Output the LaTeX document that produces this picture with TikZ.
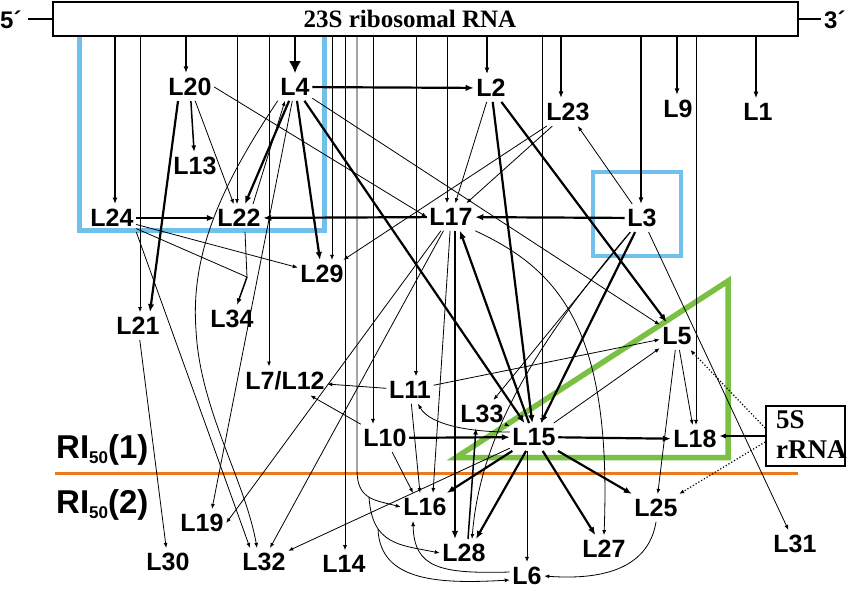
\documentclass[tikz,border=0pt]{standalone}
\usepackage{fontspec}
\setmainfont{Liberation Serif}
\setsansfont{Liberation Sans}
\usetikzlibrary{arrows.meta}
\definecolor{skyb}{RGB}{112,192,236}
\definecolor{grn}{RGB}{122,192,66}
\definecolor{orng}{RGB}{236,122,28}
\begin{document}
\begin{tikzpicture}[x=1pt,y=-1pt,
  lab/.style={font=\sffamily\bfseries\fontsize{25}{25}\selectfont,inner xsep=2.5pt,inner ysep=5pt},
  e1/.style={line width=0.8pt,-{Latex[length=5pt,width=4pt]}},
  e2/.style={line width=1.5pt,-{Latex[length=6.5pt,width=5pt]}},
  e3/.style={line width=2.2pt,-{Latex[length=8pt,width=6.5pt]}},
  e4/.style={line width=2.6pt,-{Latex[length=12pt,width=12pt]}},
  pl/.style={line width=0.8pt},
  dotarr/.style={dotted,line width=1.2pt,-{Latex[length=5pt,width=4pt]}},
  ri/.style={font=\sffamily\bfseries\fontsize{33}{33}\selectfont,inner sep=0pt,anchor=base west},
  srf/.style={font=\rmfamily\bfseries\fontsize{25}{25}\selectfont,inner sep=0pt},
  srf5/.style={font=\rmfamily\bfseries\fontsize{27}{27}\selectfont,inner sep=0pt,anchor=base west},
  prm/.style={font=\sffamily\bfseries\fontsize{24}{24}\selectfont,inner sep=0pt,anchor=base west}]
\useasboundingbox (0,0) rectangle (850,592);

% coloured frames
\draw[skyb,line width=4.5pt] (79.5,36) -- (79.5,230.5) -- (324.5,230.5) -- (324.5,36);
\draw[skyb,line width=4.5pt] (593,172) rectangle (681,256);
\draw[grn,line width=5.5pt,line join=miter] (456,457.5) -- (728,281) -- (728,457.5) -- cycle;
\coordinate (o1) at (55,473);
\coordinate (o2) at (798,473);
\draw[orng,line width=3pt] (o1) -- (o2);

% 23S box
\node[draw,line width=1.3pt,minimum width=745pt,minimum height=34pt,inner sep=0pt] (rna) at (425.5,19) {};
\node[srf] (rnat) at (410,19) {23S ribosomal RNA};
\node[prm] (p5) at (0,28) {5´};
\node[prm] (p3) at (824,28) {3´};
\coordinate (c5) at (28,19);
\coordinate (c3) at (821,19);
\draw[line width=1.3pt] (c5) -- (rna.west);
\draw[line width=1.3pt] (rna.east) -- (c3);

% RI labels
\node[ri] (ri1) at (56,458) {RI\raisebox{-5pt}{\fontsize{17}{17}\selectfont 50}(1)};
\node[ri] (ri2) at (56,513) {RI\raisebox{-5pt}{\fontsize{17}{17}\selectfont 50}(2)};

% 5S box
\node[draw,line width=1.8pt,minimum width=79pt,minimum height=60pt,inner sep=0pt] (s5) at (805.5,436) {};
\node[srf5] (t5s) at (776,428) {5S};
\node[srf5] (t5r) at (776,458) {rRNA};

% protein labels
\node[lab] (L20) at (190,87) {L20};
\node[lab] (L4) at (295,87) {L4};
\node[lab] (L2) at (491,88) {L2};
\node[lab] (L23) at (568,112) {L23};
\node[lab] (L9) at (678,109) {L9};
\node[lab] (L1) at (758,112) {L1};
\node[lab] (L13) at (195,166) {L13};
\node[lab] (L24) at (112,218) {L24};
\node[lab] (L22) at (239,218) {L22};
\node[lab] (L17) at (451,217) {L17};
\node[lab] (L3) at (642,218) {L3};
\node[lab] (L29) at (322,274) {L29};
\node[lab] (L21) at (138,326) {L21};
\node[lab] (L34) at (232,319) {L34};
\node[lab] (L5) at (677,336) {L5};
\node[lab] (L712) at (285,381) {L7/L12};
\node[lab] (L11) at (410,390) {L11};
\node[lab] (L33) at (482,414) {L33};
\node[lab] (L10) at (385,438) {L10};
\node[lab] (L15) at (534,437) {L15};
\node[lab] (L18) at (695,439) {L18};
\node[lab] (L16) at (425,507) {L16};
\node[lab] (L19) at (202,523) {L19};
\node[lab] (L25) at (656,508) {L25};
\node[lab] (L28) at (464,553) {L28};
\node[lab] (L27) at (604,549) {L27};
\node[lab] (L31) at (795,544) {L31};
\node[lab] (L30) at (168,562) {L30};
\node[lab] (L32) at (264,562) {L32};
\node[lab] (L14) at (344,564) {L14};
\node[lab] (L6) at (527,576) {L6};

% targets of the 23S lines
\coordinate (tL24) at ([xshift=3pt]L24.north);
\coordinate (tL21) at ([xshift=2pt]L21.north);
\coordinate (tL20) at ([xshift=-4pt]L20.north);
\coordinate (tL22) at ([xshift=-2pt]L22.north);
\coordinate (tL712) at ([xshift=-16pt]L712.north);
\coordinate (tL4) at (L4.north);
\coordinate (tL29) at ([xshift=10pt]L29.north);
\coordinate (tL14) at ([xshift=1pt]L14.north);
\coordinate (tL10) at ([xshift=-12pt]L10.north);
\coordinate (tL11) at ([xshift=6pt]L11.north);
\coordinate (tL17) at ([xshift=-4pt]L17.north);
\coordinate (tL2) at ([xshift=-4pt]L2.north);
\coordinate (tL15) at ([xshift=8pt]L15.north);
\coordinate (tL23) at ([xshift=-7pt]L23.north);
\coordinate (tL3) at ([xshift=-1pt]L3.north);
\coordinate (tL9) at ([xshift=-1pt]L9.north);
\coordinate (tL18) at ([xshift=1pt]L18.north);
\coordinate (tL1) at ([xshift=-2pt]L1.north);

\draw[e2] (rna.south -| tL24) -- (tL24);
\draw[e1] (rna.south -| tL21) -- (tL21);
\draw[e2] (rna.south -| tL20) -- (tL20);
\draw[e1] (rna.south -| tL22) -- (tL22);
\draw[e1] (rna.south -| tL712) -- (tL712);
\draw[e4] (rna.south -| tL4) -- (tL4);
\draw[e1] (rna.south -| tL29) -- (tL29);
\draw[e1] (rna.south -| tL14) -- (tL14);
\draw[e1] (rna.south -| tL10) -- (tL10);
\draw[e1] (rna.south -| tL11) -- (tL11);
\draw[e1] (rna.south -| tL17) -- (tL17);
\draw[e2] (rna.south -| tL2) -- (tL2);
\draw[e1] (rna.south -| tL15) -- (tL15);
\draw[e2] (rna.south -| tL23) -- (tL23);
\draw[e2] (rna.south -| tL3) -- (tL3);
\draw[e2] (rna.south -| tL9) -- (tL9);
\draw[e1] (rna.south -| tL18) -- (tL18);
\draw[e2] (rna.south -| tL1) -- (tL1);

% branching line to L16, L28, L6
\coordinate (b0) at (357,470);
\coordinate (b1) at (369,497);
\coordinate (b2) at (378,529);
\draw[e1] (rna.south -| b0) -- (b0) .. controls (357,500) and (375,500) .. (L16.west);
\draw[e1] (b1) .. controls (372,545) and (400,545) .. (L28.west);
\draw[e1] (b2) .. controls (380,582) and (440,584) .. ([yshift=-4pt]L6.west);

% L20
\draw[e2] (L20) -- (L13);
\draw[e1] (L20) -- (L22);
\draw[e3] ([xshift=-12pt]L20.south) -- ([xshift=12pt]L21.north);
\draw[e1] (L20.east) -- (L17.west);

% L4
\draw[e3] (L4) -- (L2);
\draw[e3] (L4) -- (L22);
\draw[e1] ([xshift=14pt]L22.north) -- ([xshift=-10pt]L4.south);
\draw[e1] (L4) -- ([xshift=10pt]L19.north);
\draw[e1] (L4.south west) .. controls (225,180) and (190,250) .. (196,330)
  .. controls (200,410) and (245,480) .. ([xshift=-7pt]L32.north);
\draw[e3] (L4) -- (L29);
\draw[e3] (L4) -- (L15);
\draw[e1] (L4) -- (L5);

% L2
\draw[e1] (L2) -- (L17);
\draw[e3] (L2) -- (L15);
\draw[e3] (L2) -- (L5);

% L23
\draw[e1] (L23) -- (L17);
\draw[e1] (L23) -- (L29);

% L3
\draw[e3] (L3) -- (L17);
\draw[e1] (L3) -- (L23);
\draw[e1] (L3) -- (L31);
\draw[e3] (L3) -- (L15);
\draw[e1] (L3) -- (L33);
\draw[e1] (L3) .. controls (530,350) and (480,440) .. ([xshift=8pt]L28.north);

% L24, L22, L34
\coordinate (j34) at (247,277);
\draw[e3] (L24) -- (L22);
\draw[e1] (L24) -- (L29);
\draw[pl] (L24) -- (j34);
\draw[pl] ([xshift=6pt]L22.south) -- (j34);
\draw[e2] (j34) -- (L34);
\draw[e1] (L24.south east) -- ([xshift=-14pt]L32.north);

% L17
\draw[e3] (L17) -- (L22);
\draw[e1] (L17) -- (L19.east);
\draw[e1] (L17) -- ([xshift=6pt]L32.north);
\draw[e1] (L17) -- ([xshift=8pt]L16.north);
\draw[e3] ([xshift=4pt]L17.south) -- ([xshift=-9pt]L28.north);
\draw[e3] (L15) -- ([xshift=9pt]L17.south);
\draw[e1] (L17.south east) .. controls (560,270) and (612,330) .. (L27.north);

% L21
\draw[e1] (L21) -- (L30);

% L11
\draw[e1] (L11) -- (L712);
\draw[e1] (L11) -- (L5);
\draw[e1] (L11) -- ([xshift=-5pt]L16.north);
\draw[e1] ([yshift=5pt]L15.west) .. controls (470,432) and (430,425) .. ([xshift=8pt]L11.south);

% L10
\draw[e3] (L10) -- (L15);
\draw[e1] (L10) -- ([xshift=-12pt]L16.north);
\draw[e1] (L10) -- (L712);

% L33
\draw[e1] (L33) -- (L15);
\draw[e2] ([xshift=4pt]L28.north) -- ([xshift=-6pt]L33.south);

% L15
\draw[e1] (L15) -- (L5);
\draw[e3] (L15) -- (L18);
\draw[e3] (L15) -- (L25);
\draw[e3] (L15) -- (L27);
\draw[e1] (L15.south -| L6) -- (L6);
\draw[e3] (L15) -- ([xshift=12pt]L28.north);
\draw[e3] (L15) -- (L16);
\draw[e1] (L15) -- (L32);

% L5
\draw[e1] (L5) -- (L18);
\draw[e1] (L5) -- (L25);

% 5S rRNA
\draw[e2] (s5.west) -- (L18.east |- s5.west);
\draw[dotarr] ([yshift=8pt]s5.west) -- (L5);
\draw[dotarr] ([yshift=-6pt]s5.west) -- (L25);

% L25, L6
\draw[e1] (L25.south) .. controls (648,570) and (600,580) .. (L6.east);
\draw[e1] ([yshift=4pt]L6.west) .. controls (440,574) and (414,568) .. ([xshift=-12pt]L16.south);
\end{tikzpicture}
\end{document}
